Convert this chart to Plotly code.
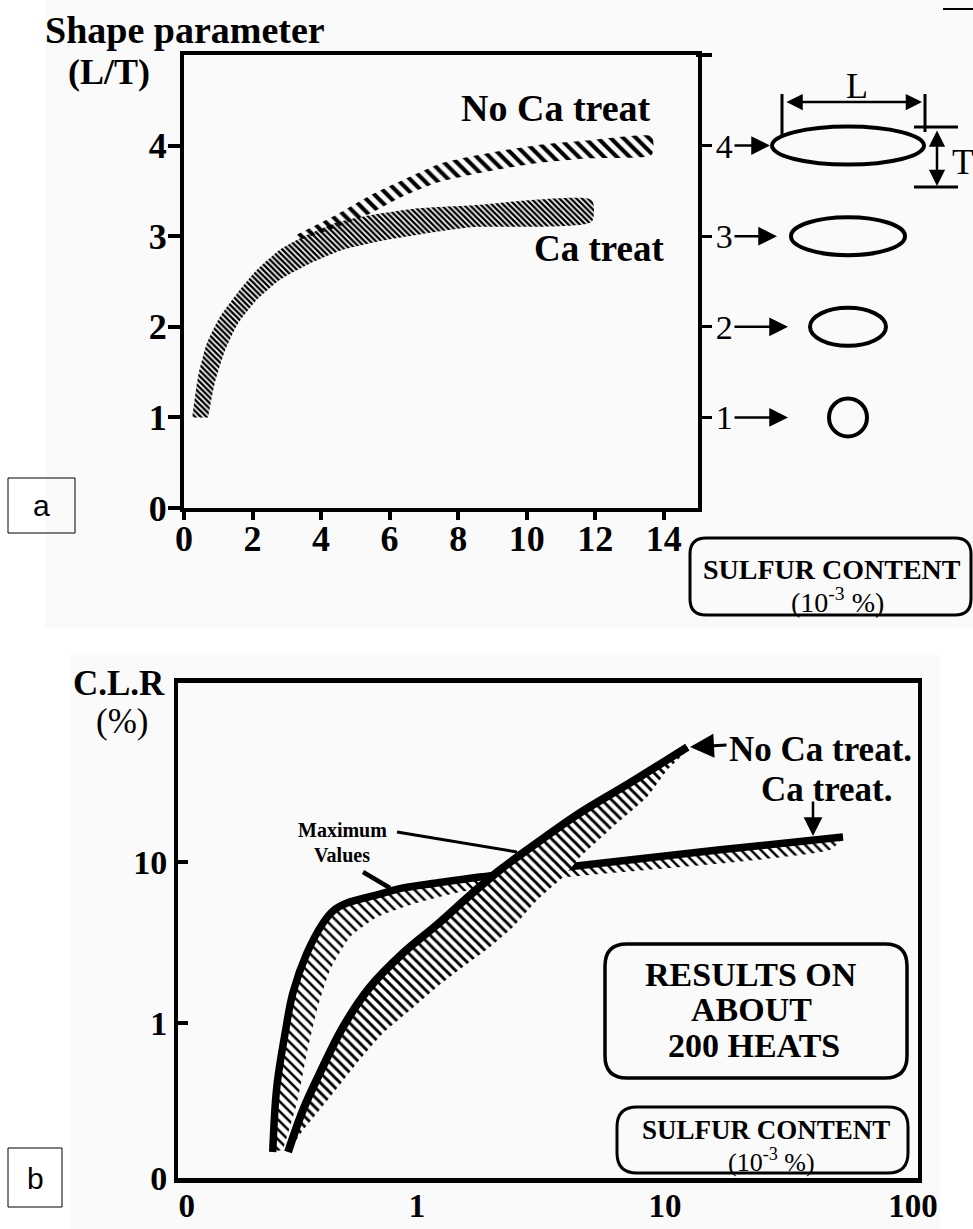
import plotly.graph_objects as go

W, H = 973, 1229


def fx(p):
    return p / W


def fy(p):
    return 1 - p / H


SERIF = "Liberation Serif"
SANS = "Liberation Sans"

# ---------------- panel (a): shape parameter L/T vs sulfur content ----------------
ca_a_upper_x = [0.24, 0.41, 0.67, 1.05, 1.55, 2.13, 2.80, 3.47, 4.46, 5.43, 6.89, 8.35, 11.9]
ca_a_upper_y = [1.00, 1.45, 1.82, 2.11, 2.37, 2.63, 2.85, 2.99, 3.15, 3.23, 3.31, 3.34, 3.40]
ca_a_lower_x = [0.70, 0.90, 1.20, 1.58, 2.13, 2.80, 3.68, 4.64, 5.92, 7.38, 8.35, 11.9]
ca_a_lower_y = [1.00, 1.38, 1.74, 2.04, 2.30, 2.52, 2.70, 2.85, 2.96, 3.05, 3.10, 3.16]

noca_a_upper_x = [3.30, 4.46, 5.43, 6.39, 7.47, 8.93, 10.39, 11.85, 13.65]
noca_a_upper_y = [3.02, 3.24, 3.45, 3.62, 3.80, 3.92, 4.01, 4.06, 4.10]
noca_a_lower_x = [3.30, 4.46, 5.43, 6.39, 7.47, 8.93, 10.39, 11.85, 13.65]
noca_a_lower_y = [2.95, 3.10, 3.25, 3.44, 3.60, 3.72, 3.81, 3.86, 3.90]

a_x_ticks = [0, 2, 4, 6, 8, 10, 12, 14]
a_y_ticks = [0, 1, 2, 3, 4]
shape_ratio = [1, 2, 3, 4]          # L/T of the sketched inclusions
ellipse_T_px = 38
arrow_tip_px = [788, 788, 777, 770]  # arrow tips toward each inclusion sketch

# ---------------- panel (b): C.L.R vs sulfur content (log-log) ----------------
ca_b_x = [0.262, 0.272, 0.294, 0.316, 0.360, 0.418, 0.458, 0.522, 0.690, 0.879, 1.20, 1.79, 4.03, 16.7, 52.2]
ca_b_y = [0.158, 0.40, 0.867, 1.54, 2.72, 4.18, 4.96, 5.56, 6.24, 6.90, 7.41, 8.07, 9.31, 11.9, 14.3]
ca_b_low_x = [0.288, 0.328, 0.360, 0.395, 0.446, 0.537, 0.690, 0.937, 1.32, 1.79, 4.03, 46.3]
ca_b_low_y = [0.163, 0.318, 0.651, 1.20, 2.13, 3.42, 4.55, 5.41, 6.24, 6.90, 8.07, 11.9]

noca_b_x = [0.302, 0.347, 0.406, 0.503, 0.646, 0.879, 1.20, 1.64, 2.16, 2.68, 4.54, 7.22, 12.3]
noca_b_y = [0.158, 0.288, 0.489, 0.944, 1.67, 2.72, 4.06, 6.24, 8.92, 11.4, 20.2, 31.0, 51.8]
noca_b_low_x = [0.347, 0.446, 0.573, 0.730, 0.937, 1.20, 1.53, 1.97, 2.44, 3.05, 3.88, 4.54, 6.17, 8.46, 10.2, 12.3]
noca_b_low_y = [0.216, 0.347, 0.565, 0.867, 1.20, 1.67, 2.23, 2.97, 3.95, 5.81, 8.07, 10.7, 16.5, 25.3, 37.3, 49.6]

b_x_tickvals = [0.118, 1, 10, 100]
b_x_ticktext = ["0", "1", "10", "100"]
b_y_tickvals = [0.109, 1, 10]
b_y_ticktext = ["0", "1", "10"]

fig = go.Figure()

# panel (a) bands
fig.add_trace(go.Scatter(
    x=ca_a_upper_x + ca_a_lower_x[::-1], y=ca_a_upper_y + ca_a_lower_y[::-1],
    fill="toself", mode="lines", line=dict(width=0, shape="spline", smoothing=0.6),
    fillpattern=dict(shape="\\", size=4, solidity=0.6, fgcolor="black", bgcolor="white"),
    xaxis="x", yaxis="y", hoverinfo="skip"))
fig.add_trace(go.Scatter(
    x=noca_a_upper_x + noca_a_lower_x[::-1], y=noca_a_upper_y + noca_a_lower_y[::-1],
    fill="toself", mode="lines", line=dict(width=0, shape="spline", smoothing=0.6),
    fillpattern=dict(shape="\\", size=9, solidity=0.45, fgcolor="black", bgcolor="rgba(0,0,0,0)"),
    xaxis="x", yaxis="y", hoverinfo="skip"))

# panel (b): Ca-treated band and maximum line
fig.add_trace(go.Scatter(
    x=ca_b_x + ca_b_low_x[::-1], y=ca_b_y + ca_b_low_y[::-1],
    fill="toself", mode="lines", line=dict(width=0, shape="spline", smoothing=0.5),
    fillpattern=dict(shape="\\", size=7, solidity=0.36, fgcolor="black", bgcolor="white"),
    xaxis="x2", yaxis="y3", hoverinfo="skip"))
fig.add_trace(go.Scatter(
    x=ca_b_x, y=ca_b_y, mode="lines",
    line=dict(width=7.5, color="black", shape="spline", smoothing=1.0),
    xaxis="x2", yaxis="y3", hoverinfo="skip"))
# panel (b): untreated band and maximum line
fig.add_trace(go.Scatter(
    x=noca_b_x + noca_b_low_x[::-1], y=noca_b_y + noca_b_low_y[::-1],
    fill="toself", mode="lines", line=dict(width=0, shape="spline", smoothing=0.5),
    fillpattern=dict(shape="\\", size=7, solidity=0.42, fgcolor="black", bgcolor="white"),
    xaxis="x2", yaxis="y3", hoverinfo="skip"))
fig.add_trace(go.Scatter(
    x=noca_b_x, y=noca_b_y, mode="lines",
    line=dict(width=8, color="black", shape="spline", smoothing=1.0),
    xaxis="x2", yaxis="y3", hoverinfo="skip"))

# ---------------- shapes ----------------
shapes = []
# faint scan tint behind each panel
shapes.append(dict(type="rect", xref="paper", yref="paper", x0=fx(45), x1=fx(973), y0=fy(628), y1=fy(0),
                   fillcolor="#fafafa", line_width=0, layer="below"))
shapes.append(dict(type="rect", xref="paper", yref="paper", x0=fx(70), x1=fx(940), y0=fy(1229), y1=fy(655),
                   fillcolor="#fafafa", line_width=0, layer="below"))


def pline(x0, y0, x1, y1, w=3):
    return dict(type="line", xref="paper", yref="paper", x0=fx(x0), y0=fy(y0), x1=fx(x1), y1=fy(y1),
                line=dict(color="black", width=w))


def rounded_box(x0, y0, x1, y1, r, w=3):
    pts = [("M", x0 + r, y0), ("L", x1 - r, y0), ("Q", x1, y0, x1, y0 + r), ("L", x1, y1 - r),
           ("Q", x1, y1, x1 - r, y1), ("L", x0 + r, y1), ("Q", x0, y1, x0, y1 - r), ("L", x0, y0 + r),
           ("Q", x0, y0, x0 + r, y0)]
    path = ""
    for p in pts:
        cmd, vals = p[0], p[1:]
        coords = []
        for i in range(0, len(vals), 2):
            coords.append(f"{fx(vals[i]):.5f},{fy(vals[i + 1]):.5f}")
        path += cmd + " " + " ".join(coords) + " "
    return dict(type="path", xref="paper", yref="paper", path=path + "Z",
                line=dict(color="black", width=w), fillcolor="rgba(0,0,0,0)")


# inclusion sketches next to the right-hand L/T scale
for r in shape_ratio:
    w = r * ellipse_T_px
    shapes.append(dict(type="circle", xref="paper", xsizemode="pixel", xanchor=fx(848),
                       x0=-w / 2, x1=w / 2, yref="y2", ysizemode="pixel", yanchor=r,
                       y0=-ellipse_T_px / 2, y1=ellipse_T_px / 2,
                       line=dict(color="black", width=4)))

# L and T dimension marks
shapes += [pline(782, 94, 782, 137), pline(925, 94, 925, 132),
           pline(914, 127, 958, 127), pline(914, 187, 958, 187)]
# "Maximum Values" pointers
shapes += [pline(397, 832, 517, 852, 3), pline(363, 872, 390, 888, 4.5)]
# top border of panel (a) runs a little past the right axis
shapes.append(pline(696, 55, 712, 55, 4))
# stray mark at the top right of the sheet
shapes.append(pline(943, 9, 973, 9, 2))
# boxes
shapes.append(rounded_box(690, 538, 971, 615, 16, 3))
shapes.append(rounded_box(605, 944, 907, 1078, 22, 3.5))
shapes.append(rounded_box(617, 1107, 908, 1173, 20, 3))
shapes.append(dict(type="rect", xref="paper", yref="paper", x0=fx(8), x1=fx(75), y0=fy(533), y1=fy(478),
                   line=dict(color="black", width=1)))
shapes.append(dict(type="rect", xref="paper", yref="paper", x0=fx(8), x1=fx(62), y0=fy(1207), y1=fy(1148),
                   line=dict(color="black", width=1)))

# ---------------- annotations ----------------
ann = []


def text(t, x, y, size, bold=True, anchor="center", family=SERIF):
    ann.append(dict(text=t, x=fx(x), y=fy(y), xref="paper", yref="paper", showarrow=False,
                    xanchor=anchor, yanchor="middle",
                    font=dict(family=family, size=size, color="black",
                              weight="bold" if bold else "normal")))


def arrow(tip_x, tip_y, start_x, start_y, both=False, yref="paper", size=1.4, width=2.5):
    ann.append(dict(text="", x=fx(tip_x), y=(fy(tip_y) if yref == "paper" else tip_y),
                    xref="paper", yref=yref, showarrow=True, arrowhead=2,
                    arrowside="end+start" if both else "end", arrowsize=size, arrowwidth=width,
                    arrowcolor="black", ax=start_x - tip_x,
                    ay=(start_y - tip_y) if yref == "paper" else 0, standoff=0, startstandoff=0))


text("Shape parameter", 43, 30, 38, anchor="left")
text("(L/T)", 66, 72, 36, anchor="left")
text("No Ca treat", 459, 108, 38, anchor="left")
text("Ca treat", 532, 248, 37, anchor="left")
text("L", 857, 86, 36, bold=False)
text("T", 950, 162, 36, bold=False, anchor="left")
text("a", 41, 506, 30, bold=False, family=SANS)
text("SULFUR CONTENT", 832, 569, 28)
text("(10<sup>-3</sup> %)", 837, 601, 28, bold=False)

text("C.L.R", 119, 683, 35)
text("(%)", 122, 721, 35, bold=False)
text("Maximum", 342, 830, 20)
text("Values", 342, 855, 20)
text("No Ca treat.", 727, 749, 35, anchor="left")
text("Ca treat.", 759, 789, 35, anchor="left")
text("RESULTS ON", 751, 974, 34)
text("ABOUT", 751, 1010, 34)
text("200 HEATS", 754, 1045, 34)
text("SULFUR CONTENT", 766, 1130, 27)
text("(10<sup>-3</sup> %)", 771, 1160, 26, bold=False)
text("b", 35, 1178, 30, bold=False, family=SANS)

# arrows from the right-hand scale to the sketches
for r, tip in zip(shape_ratio, arrow_tip_px):
    arrow(tip, r, 733, r, yref="y2", size=1.5, width=2.5)
# L and T dimension arrows
arrow(922, 102, 785, 102, both=True, size=1.3, width=2.5)
arrow(937, 186, 937, 129, both=True, size=1.3, width=2.5)
# labels pointing onto the curves
arrow(690, 747, 728, 745, size=1.6, width=3)
arrow(813, 836, 813, 800, size=1.5, width=2.5)

axis_font = dict(family=SERIF, size=36, color="black", weight="bold")

fig.update_layout(
    width=W, height=H, autosize=False, margin=dict(l=0, r=0, t=0, b=0),
    template="none", paper_bgcolor="white", plot_bgcolor="rgba(0,0,0,0)", showlegend=False,
    shapes=shapes, annotations=ann,
    xaxis=dict(domain=[fx(184), fx(698)], range=[0, 15], anchor="y", showgrid=False, zeroline=False,
               showline=True, linewidth=4, linecolor="black", mirror=True,
               tickmode="array", tickvals=a_x_ticks, ticktext=[str(v) for v in a_x_ticks],
               ticks="outside", ticklen=8, tickwidth=4, tickcolor="black", tickfont=axis_font,
               ticklabelstandoff=-12),
    yaxis=dict(domain=[fy(508), fy(55)], range=[0, 5], anchor="x", showgrid=False, zeroline=False,
               showline=True, linewidth=4, linecolor="black",
               tickmode="array", tickvals=a_y_ticks, ticktext=[str(v) for v in a_y_ticks],
               ticks="outside", ticklen=12, tickwidth=4, tickcolor="black", tickfont=axis_font,
               ticklabelstandoff=-6),
    yaxis2=dict(overlaying="y", side="right", anchor="x", range=[0, 5], showgrid=False, zeroline=False,
                showline=True, linewidth=4, linecolor="black",
                tickmode="array", tickvals=shape_ratio, ticktext=[str(v) for v in shape_ratio],
                ticks="outside", ticklen=10, tickwidth=3, tickcolor="black",
                tickfont=dict(family=SERIF, size=34, color="black"), ticklabelstandoff=-3),
    xaxis2=dict(domain=[fx(178), fx(918)], type="log", range=[-0.9637, 2.020], anchor="y3",
                showgrid=False, zeroline=False, showline=True, linewidth=5, linecolor="black", mirror=True,
                tickmode="array", tickvals=b_x_tickvals, ticktext=b_x_ticktext, ticks="",
                tickfont=dict(family=SERIF, size=33, color="black", weight="bold"),
                ticklabelstandoff=-6),
    yaxis3=dict(domain=[fy(1178), fy(683)], type="log", range=[-0.963, 2.112], anchor="x2",
                showgrid=False, zeroline=False, showline=True, linewidth=4, linecolor="black", mirror=True,
                tickmode="array", tickvals=b_y_tickvals, ticktext=b_y_ticktext,
                ticks="inside", ticklen=10, tickwidth=4, tickcolor="black",
                tickfont=dict(family=SERIF, size=34, color="black", weight="bold")),
)

fig.write_html("out.html")
